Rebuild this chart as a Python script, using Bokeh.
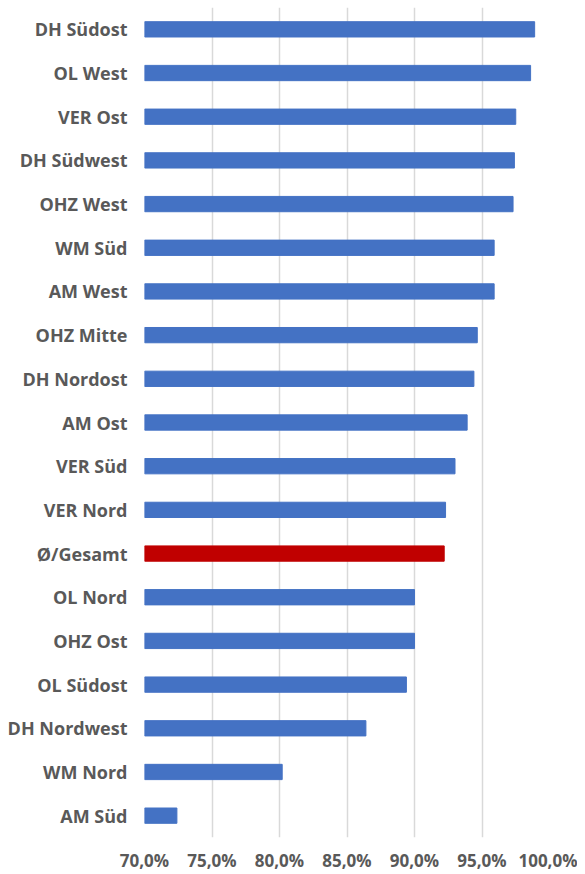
from bokeh.plotting import figure
from bokeh.models import FactorRange, Range1d, FixedTicker, ColumnDataSource
from bokeh.embed import file_html
from bokeh.resources import INLINE

# data (top to bottom as in the picture)
regions = ["DH Südost", "OL West", "VER Ost", "DH Südwest", "OHZ West", "WM Süd",
           "AM West", "OHZ Mitte", "DH Nordost", "AM Ost", "VER Süd", "VER Nord",
           "Ø/Gesamt", "OL Nord", "OHZ Ost", "OL Südost", "DH Nordwest", "WM Nord", "AM Süd"]
values = [98.9, 98.6, 97.5, 97.4, 97.3, 95.9,
          95.9, 94.65, 94.4, 93.9, 93.0, 92.3,
          92.2, 90.0, 90.0, 89.4, 86.4, 80.2, 72.4]
tick_values = [70, 75, 80, 85, 90, 95, 100]
tick_labels = ["70,0%", "75,0%", "80,0%", "85,0%", "90,0%", "95,0%", "100,0%"]
highlight = "Ø/Gesamt"

colors = ["#C00000" if r == highlight else "#4472C4" for r in regions]
src = ColumnDataSource(dict(region=regions, value=values, color=colors,
                            base=[tick_values[0]] * len(regions)))

factors = list(reversed(regions))
p = figure(width=577, height=874, output_backend="svg", toolbar_location=None,
           y_range=FactorRange(*factors, range_padding=0),
           x_range=Range1d(tick_values[0], tick_values[-1]),
           min_border_left=144, min_border_right=28, min_border_top=7, min_border_bottom=34)

p.hbar(y="region", left="base", right="value", height=0.35, color="color", source=src)

p.outline_line_color = None
p.background_fill_color = "white"
p.border_fill_color = "white"

p.ygrid.grid_line_color = None
p.xgrid.grid_line_color = "#D9D9D9"
p.xgrid.grid_line_width = 1.5

p.xaxis.ticker = FixedTicker(ticks=tick_values)
p.xaxis.major_label_overrides = {t: l for t, l in zip(tick_values, tick_labels)}
for ax in (p.xaxis, p.yaxis):
    ax.axis_line_color = None
    ax.major_tick_line_color = None
    ax.minor_tick_line_color = None
    ax.major_label_text_font = "Open Sans"
    ax.major_label_text_font_style = "bold"
    ax.major_label_text_color = "#595959"
p.yaxis.major_label_text_font_size = "18px"
p.xaxis.major_label_text_font_size = "17px"
p.xaxis.major_label_standoff = 5
p.yaxis.major_label_standoff = 11

open("out.html", "w").write(file_html(p, INLINE))
